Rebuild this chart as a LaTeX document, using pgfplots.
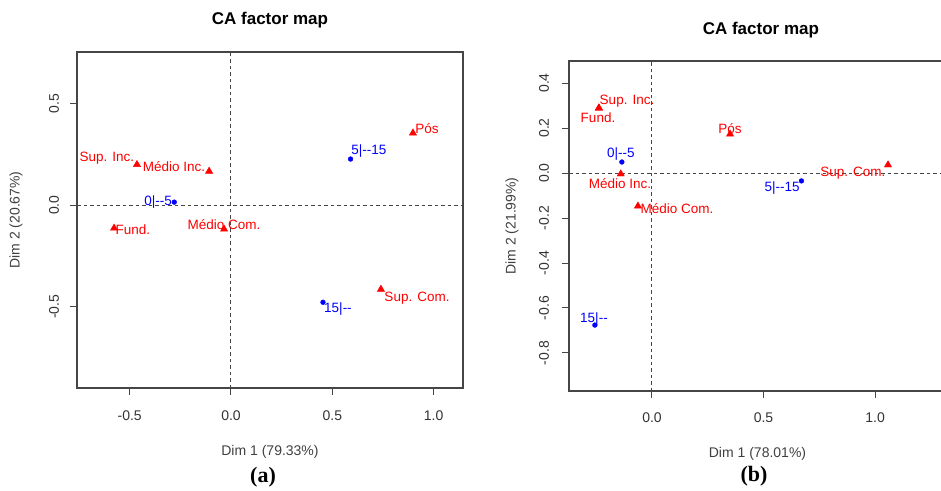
\documentclass[border=0pt]{standalone}
\usepackage{fontspec}
\setmainfont{Liberation Sans}
\newfontfamily\serifb{Liberation Serif}
\usepackage{pgfplots}
\pgfplotsset{compat=1.18}
\definecolor{rred}{RGB}{255,0,0}
\definecolor{rblue}{RGB}{0,0,255}
\definecolor{rgray}{RGB}{70,70,70}
\pgfplotsset{
  ca/.style={
    scale only axis,
    axis line style={rgray, line width=1.1pt},
    tick style={rgray, line width=1pt},
    tick align=outside,
    major tick length=7pt,
    tick pos=left,
    /pgf/number format/assume math mode=true,
    ticklabel style={font=\fontsize{14}{14}\selectfont, text=black!80},
    xticklabel style={anchor=center},
    yticklabel style={rotate=90, anchor=center},
    label style={font=\fontsize{14}{14}\selectfont, text=black!75},
    title style={font=\fontsize{17}{17}\selectfont\bfseries, anchor=center},
    clip=false,
  },
}
\tikzset{
  lab/.style={font=\fontsize{13.5}{13.5}\selectfont, anchor=center, inner sep=0pt},
  zl/.style={rgray, line width=1pt, dash pattern=on 3.5pt off 3pt},
}
\begin{document}
\begin{tikzpicture}[x=1pt,y=1pt]
\useasboundingbox (0,0) rectangle (941,490);
% ---------------- (a) ----------------
\begin{axis}[ca,
  at={(77pt,102pt)}, anchor=south west,
  width=386pt, height=336pt,
  xmin=-0.76, xmax=1.145, ymin=-0.90, ymax=0.754,
  xtick={-0.5,0,0.5,1}, xticklabels={-0.5,0.0,0.5,1.0},
  ytick={-0.5,0,0.5}, yticklabels={-0.5,0.0,0.5},
  xticklabel style={yshift=-21pt},
  yticklabel style={yshift=16pt},
  xlabel={Dim 1 (79.33\%)}, ylabel={Dim 2 (20.67\%)},
  xlabel style={at={(axis description cs:0.5,-0.19)}, anchor=center},
  ylabel style={at={(axis description cs:-0.158,0.5)}, anchor=center},
  title={CA factor map},
  title style={at={(axis description cs:0.5,1.077)}},
]
\addplot[zl, forget plot] coordinates {(0,-0.90) (0,0.754)};
\addplot[zl, forget plot] coordinates {(-0.76,0) (1.145,0)};
\addplot[only marks, mark=triangle*, mark size=4.2pt, color=rred] coordinates {
  (-0.464,0.200) (-0.108,0.167) (-0.577,-0.113) (-0.034,-0.118) (0.898,0.355) (0.740,-0.414)};
\addplot[only marks, mark=*, mark size=2.4pt, color=rblue] coordinates {
  (-0.280,0.015) (0.590,0.227) (0.454,-0.478)};
\node[lab, text=rred] at (axis cs:-0.612,0.232) {Sup. Inc.};
\node[lab, text=rred] at (axis cs:-0.281,0.192) {Médio Inc.};
\node[lab, text=rred] at (axis cs:-0.484,-0.123) {Fund.};
\node[lab, text=rred] at (axis cs:-0.034,-0.094) {Médio Com.};
\node[lab, text=rred] at (axis cs:0.967,0.379) {Pós};
\node[lab, text=rred] at (axis cs:0.918,-0.458) {Sup. Com.};
\node[lab, text=rblue] at (axis cs:-0.360,0.015) {0|{-}{-}5};
\node[lab, text=rblue] at (axis cs:0.681,0.266) {5|{-}{-}15};
\node[lab, text=rblue] at (axis cs:0.528,-0.512) {15|{-}{-}};
\node[font=\fontsize{22}{22}\selectfont\serifb\bfseries, anchor=center] at (axis description cs:0.482,-0.265) {(a)};
\end{axis}
% ---------------- (b) ----------------
\begin{axis}[ca,
  at={(569pt,99pt)}, anchor=south west,
  width=377pt, height=330pt,
  xmin=-0.372, xmax=1.318, ymin=-0.969, ymax=0.498,
  xtick={0,0.5,1}, xticklabels={0.0,0.5,1.0},
  ytick={-0.8,-0.6,-0.4,-0.2,0,0.2,0.4}, yticklabels={-0.8,-0.6,-0.4,-0.2,0.0,0.2,0.4},
  xticklabel style={yshift=-20pt},
  yticklabel style={yshift=18pt},
  xlabel={Dim 1 (78.01\%)}, ylabel={Dim 2 (21.99\%)},
  xlabel style={at={(axis description cs:0.5,-0.19)}, anchor=center},
  ylabel style={at={(axis description cs:-0.1512,0.5)}, anchor=center},
  title={CA factor map},
  title style={at={(axis description cs:0.509,1.076)}},
]
\addplot[zl, forget plot] coordinates {(0,-0.969) (0,0.498)};
\addplot[zl, forget plot] coordinates {(-0.372,0) (1.318,0)};
\addplot[only marks, mark=triangle*, mark size=4.2pt, color=rred] coordinates {
  (-0.238,0.289) (-0.238,0.289) (0.350,0.173) (-0.140,-0.004) (-0.063,-0.147) (1.058,0.036)};
\addplot[only marks, mark=*, mark size=2.4pt, color=rblue] coordinates {
  (-0.135,0.049) (0.670,-0.035) (-0.256,-0.676)};
\node[lab, text=rred] at (axis cs:-0.112,0.320) {Sup. Inc.};
\node[lab, text=rred] at (axis cs:-0.242,0.244) {Fund.};
\node[lab, text=rred] at (axis cs:0.350,0.196) {Pós};
\node[lab, text=rred] at (axis cs:-0.143,-0.049) {Médio Inc.};
\node[lab, text=rred] at (axis cs:0.112,-0.156) {Médio Com.};
\node[lab, text=rred] at (axis cs:0.901,0.000) {Sup. Com.};
\node[lab, text=rblue] at (axis cs:-0.139,0.084) {0|{-}{-}5};
\node[lab, text=rblue] at (axis cs:0.583,-0.067) {5|{-}{-}15};
\node[lab, text=rblue] at (axis cs:-0.260,-0.649) {15|{-}{-}};
\node[font=\fontsize{22}{22}\selectfont\serifb\bfseries, anchor=center] at (axis description cs:0.4906,-0.2576) {(b)};
\end{axis}
\end{tikzpicture}
\end{document}
